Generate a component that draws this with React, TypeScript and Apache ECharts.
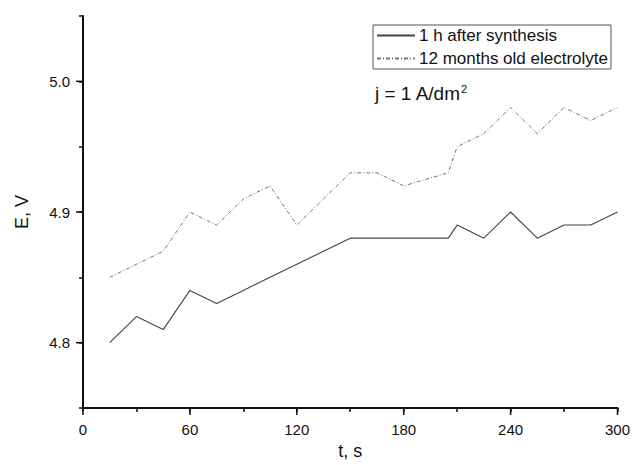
import React, { useEffect, useRef } from "react";
import * as echarts from "echarts";

const timeFresh = [15, 30, 45, 60, 75, 90, 105, 120, 135, 150, 165, 180, 195, 205, 210, 225, 240, 255, 270, 285, 300];
const valuesFresh = [4.80, 4.82, 4.81, 4.84, 4.83, 4.84, 4.85, 4.86, 4.87, 4.88, 4.88, 4.88, 4.88, 4.88, 4.89, 4.88, 4.90, 4.88, 4.89, 4.89, 4.90];

const timeOld = [15, 30, 45, 60, 75, 90, 105, 120, 135, 150, 165, 180, 205, 210, 225, 240, 255, 270, 285, 300];
const valuesOld = [4.85, 4.86, 4.87, 4.90, 4.89, 4.91, 4.92, 4.89, 4.91, 4.93, 4.93, 4.92, 4.93, 4.95, 4.96, 4.98, 4.96, 4.98, 4.97, 4.98];

const seriesNames = ["1 h after synthesis", "12 months old electrolyte"];
const xMajorTicks = [0, 60, 120, 180, 240, 300];
const yMajorTicks = [4.8, 4.9, 5.0];

const FONT = "Liberation Sans";

export default function App() {
  const ref = useRef<HTMLDivElement>(null);
  useEffect(() => {
    if (!ref.current) return;
    const chart = echarts.init(ref.current, null, { renderer: "svg" });
    const isMajorX = (v: number) => Math.abs(v % 60) < 1e-6;
    const isMajorY = (v: number) => Math.abs(Math.round(v * 10) - v * 10) < 1e-6;
    chart.setOption({
      animation: false,
      backgroundColor: "#ffffff",
      grid: { left: 83, right: 14, top: 16, bottom: 54, containLabel: false },
      legend: {
        show: true,
        left: 373,
        top: 25,
        orient: "vertical",
        itemWidth: 38,
        itemHeight: 14,
        itemGap: 6,
        padding: [2, 3, 2, 3],
        borderColor: "#555",
        borderWidth: 1,
        itemStyle: { opacity: 0 },
        textStyle: { fontFamily: FONT, fontSize: 17, color: "#111", padding: [0, 0, 0, -1] },
        data: [seriesNames[0], seriesNames[1]],
      },
      xAxis: {
        type: "value",
        min: 0,
        max: 300,
        interval: 30,
        name: "t, s",
        nameLocation: "middle",
        nameGap: 34,
        nameTextStyle: { fontFamily: FONT, fontSize: 18, color: "#111" },
        axisLine: { show: true, onZero: false, lineStyle: { color: "#111", width: 2 } },
        axisTick: { show: true, inside: false, length: 4, lineStyle: { color: "#111", width: 1.5 } },
        axisLabel: {
          fontFamily: FONT,
          fontSize: 15,
          color: "#111",
          margin: 14,
          formatter: (v: number) => (isMajorX(v) ? String(v) : ""),
        },
        splitLine: { show: false },
      },
      yAxis: {
        type: "value",
        min: 4.75,
        max: 5.05,
        interval: 0.05,
        name: "E, V",
        nameLocation: "middle",
        nameGap: 52,
        nameTextStyle: { fontFamily: FONT, fontSize: 18, color: "#111" },
        axisLine: { show: true, onZero: false, lineStyle: { color: "#111", width: 2 } },
        axisTick: { show: true, inside: false, length: 4, lineStyle: { color: "#111", width: 1.5 } },
        axisLabel: {
          fontFamily: FONT,
          fontSize: 15,
          color: "#111",
          margin: 13,
          formatter: (v: number) => (isMajorY(v) ? v.toFixed(1) : ""),
        },
        splitLine: { show: false },
      },
      series: [
        {
          name: seriesNames[0],
          type: "line",
          data: timeFresh.map((t, i) => [t, valuesFresh[i]]),
          symbol: "none",
          lineStyle: { color: "#444", width: 1.1, type: "solid" },
          itemStyle: { color: "#444" },
        },
        {
          name: seriesNames[1],
          type: "line",
          data: timeOld.map((t, i) => [t, valuesOld[i]]),
          symbol: "none",
          lineStyle: { color: "#777", width: 1, type: [4, 2, 1, 2] },
          itemStyle: { color: "#777" },
        },
      ],
    });

    // major ticks (longer) computed through the axes' scales
    const x0 = chart.convertToPixel({ xAxisIndex: 0 }, 0) as number;
    const yBottom = chart.convertToPixel({ yAxisIndex: 0 }, 4.75) as number;
    const tickStyle = { stroke: "#111", lineWidth: 1.5 };
    const graphics: any[] = [];
    xMajorTicks.forEach((v) => {
      const px = chart.convertToPixel({ xAxisIndex: 0 }, v) as number;
      graphics.push({ type: "line", shape: { x1: px, y1: yBottom, x2: px, y2: yBottom + 7 }, style: tickStyle, silent: true });
    });
    yMajorTicks.forEach((v) => {
      const py = chart.convertToPixel({ yAxisIndex: 0 }, v) as number;
      graphics.push({ type: "line", shape: { x1: x0 - 7, y1: py, x2: x0, y2: py }, style: tickStyle, silent: true });
    });
    graphics.push({
      type: "text",
      left: 375,
      top: 83,
      style: {
        text: "j = 1 A/dm{sup|2}",
        fontFamily: FONT,
        fontSize: 19,
        fill: "#111",
        rich: { sup: { fontFamily: FONT, fontSize: 11, verticalAlign: "top", padding: [0, 0, 9, 0], fill: "#111" } },
      },
    });
    chart.setOption({ graphic: graphics });

    return () => chart.dispose();
  }, []);
  return <div ref={ref} style={{ width: 633, height: 465, position: "absolute", left: 0, top: 0 }} />;
}
